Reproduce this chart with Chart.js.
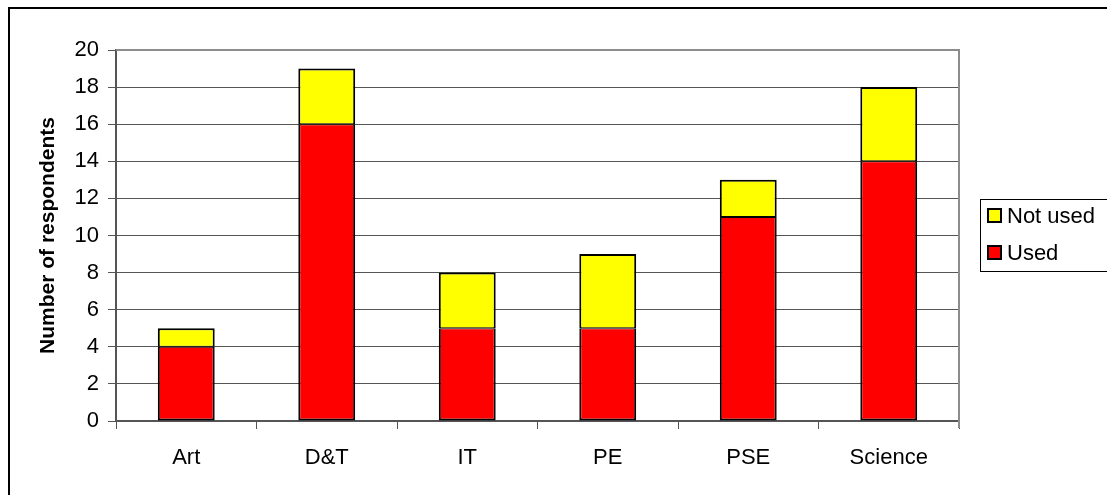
<!DOCTYPE html>
<html>
<head>
<meta charset="utf-8">
<script src="https://cdn.jsdelivr.net/npm/chart.js@4/dist/chart.umd.min.js"></script>
<style>
  html, body { margin: 0; padding: 0; background: #fff; }
  #wrap { width: 1107px; height: 495px; position: relative; }
</style>
</head>
<body>
<div id="wrap"><canvas id="c" width="1107" height="495"></canvas></div>
<script>
const categories = ['Art', 'D&T', 'IT', 'PE', 'PSE', 'Science'];
const usedValues = [4, 16, 5, 5, 11, 14];
const notUsedValues = [1, 3, 3, 4, 2, 4];
const yTicks = [0, 2, 4, 6, 8, 10, 12, 14, 16, 18, 20];
const yTitle = 'Number of respondents';

const FONT = "'Liberation Sans', Arial, sans-serif";

const decor = {
  id: 'decor',
  beforeDraw(chart) {
    const ctx = chart.ctx;
    ctx.save();
    ctx.fillStyle = '#fff';
    ctx.fillRect(0, 0, chart.width, chart.height);
    ctx.restore();
  },
  afterDatasetsDraw(chart) {
    const ctx = chart.ctx;
    const a = chart.chartArea;
    ctx.save();
    ctx.strokeStyle = '#8c8c8c';
    ctx.lineWidth = 2;
    ctx.beginPath();
    ctx.moveTo(a.left, a.top);
    ctx.lineTo(a.right, a.top);
    ctx.lineTo(a.right, a.bottom + 7);
    ctx.stroke();
    ctx.restore();
  },
  afterDraw(chart) {
    const ctx = chart.ctx;
    ctx.save();
    ctx.strokeStyle = '#000';
    ctx.lineWidth = 2;
    ctx.strokeRect(9, 8, 1120, 520);
    const lx = 980.5, ly = 199.5, lw = 140, lh = 72;
    ctx.lineWidth = 1;
    ctx.strokeRect(lx, ly, lw, lh);
    const items = chart.data.datasets.map((d) => ({ label: d.label, color: d.backgroundColor })).reverse();
    ctx.font = '22px ' + FONT;
    ctx.textBaseline = 'middle';
    ctx.textAlign = 'left';
    items.forEach((it, i) => {
      const cy = 216 + i * 37;
      ctx.fillStyle = it.color;
      ctx.fillRect(988, cy - 7, 13, 13);
      ctx.lineWidth = 2;
      ctx.strokeStyle = '#000';
      ctx.strokeRect(988, cy - 7, 13, 13);
      ctx.fillStyle = '#000';
      ctx.fillText(it.label, 1007, cy + 1);
    });
    ctx.restore();
  }
};

new Chart(document.getElementById('c'), {
  type: 'bar',
  data: {
    labels: categories,
    datasets: [
      { label: 'Used', data: usedValues, backgroundColor: '#ff0000', borderColor: '#000',
        borderWidth: { top: 1, left: 2, right: 2, bottom: 2 }, borderSkipped: false },
      { label: 'Not used', data: notUsedValues, backgroundColor: '#ffff00', borderColor: '#000',
        borderWidth: { top: 2, left: 2, right: 2, bottom: 1 }, borderSkipped: false }
    ]
  },
  options: {
    responsive: false,
    animation: false,
    devicePixelRatio: 1,
    layout: { padding: { left: 0, top: 50, right: 148, bottom: 0 } },
    plugins: { legend: { display: false }, tooltip: { enabled: false } },
    datasets: { bar: { categoryPercentage: 1, barPercentage: 0.405 } },
    scales: {
      x: {
        stacked: true,
        grid: { offset: true, drawOnChartArea: false, tickLength: 8, color: '#555', tickColor: '#555' },
        border: { color: '#555', width: 2 },
        ticks: { color: '#000', font: { family: FONT, size: 22 }, padding: 16, maxRotation: 0 },
        afterFit(s) { s.height = 74; }
      },
      y: {
        stacked: true,
        min: 0, max: 20,
        afterBuildTicks(s) { s.ticks = yTicks.map(v => ({ value: v })); },
        grid: { color: (c) => c.tick && c.tick.value === 20 ? 'rgba(0,0,0,0)' : '#555', tickLength: 8, tickColor: '#555', lineWidth: 1 },
        border: { color: '#555', width: 2 },
        ticks: { color: '#000', font: { family: FONT, size: 22 }, padding: 9 },
        title: { display: true, text: yTitle, color: '#000', font: { family: FONT, size: 21, weight: 'bold' }, padding: { top: 36, bottom: 0 } },
        afterFit(s) { s.width = 116; }
      }
    }
  },
  plugins: [decor]
});
</script>
</body>
</html>
